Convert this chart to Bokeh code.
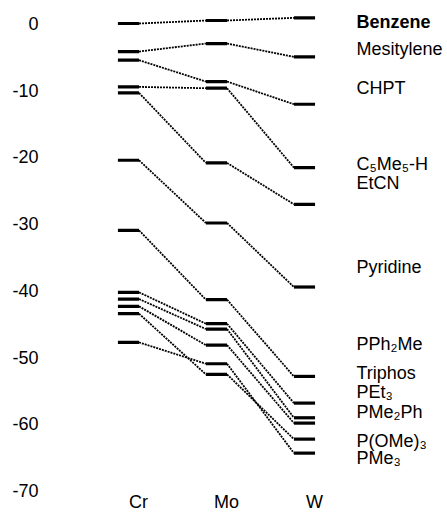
from bokeh.plotting import figure
from bokeh.models import ColumnDataSource, FixedTicker, Range1d
from bokeh.core.properties import value
from bokeh.embed import file_html
from bokeh.resources import INLINE

# ---- data ----
metals = ["Cr", "Mo", "W"]
ligands = ["Benzene", "Mesitylene", "CHPT", "C\u2085Me\u2085-H", "EtCN", "Pyridine",
           "PPh\u2082Me", "Triphos", "PEt\u2083", "PMe\u2082Ph", "P(OMe)\u2083", "PMe\u2083"]
cr_vals = [0.0, -4.2, -5.5, -9.5, -10.4, -20.5, -31.0, -40.3, -41.3, -42.4, -43.5, -47.8]
mo_vals = [0.45, -3.0, -8.7, -9.7, -20.9, -29.9, -41.4, -45.0, -45.8, -48.2, -52.6, -51.0]
w_vals = [0.85, -5.0, -12.1, -21.6, -27.1, -39.5, -52.9, -56.9, -59.1, -59.9, -62.3, -64.4]
label_y = [0.2, -3.8, -9.6, -21.0, -23.9, -36.5, -48.0, -52.4, -55.3, -58.2, -62.6, -65.1]
y_ticks = [0, -10, -20, -30, -40, -50, -60, -70]
y_tick_labels = ["0", "-10", "-20", "-30", "-40", "-50", "-60", "-70"]

# ---- layout constants ----
HW = 0.12           # half width of a level bar, in x units
LABEL_X = 2.59      # x where ligand labels start
METAL_LABEL_Y = -73.3
FONT = "Liberation Sans"

series = [cr_vals, mo_vals, w_vals]

p = figure(width=447, height=514, output_backend="svg", toolbar_location=None,
           x_range=Range1d(-0.977, 3.625), y_range=Range1d(-73.6, 3.45),
           x_axis_location=None, min_border_left=42, min_border_right=0,
           min_border_top=0, min_border_bottom=0)
p.outline_line_color = None
p.grid.visible = False
p.background_fill_color = "white"
p.border_fill_color = "white"

# y axis
ax = p.yaxis[0]
ax.ticker = FixedTicker(ticks=y_ticks)
ax.major_label_overrides = {t: s for t, s in zip(y_ticks, y_tick_labels)}
ax.axis_line_color = None
ax.major_tick_line_color = None
ax.minor_tick_line_color = None
ax.major_tick_out = 0
ax.major_tick_in = 0
ax.major_label_standoff = 4
ax.major_label_text_font = FONT
ax.major_label_text_font_size = "18px"
ax.major_label_text_color = "black"

# level bars
bx0, bx1, by = [], [], []
for i, vals in enumerate(series):
    for v in vals:
        bx0.append(i - HW)
        bx1.append(i + HW)
        by.append(v)
p.segment(x0=bx0, y0=by, x1=bx1, y1=by, line_color="black", line_width=3.2, line_cap="butt")

# dotted connectors
cx0, cy0, cx1, cy1 = [], [], [], []
for i in range(len(series) - 1):
    for a, b in zip(series[i], series[i + 1]):
        cx0.append(i + HW)
        cy0.append(a)
        cx1.append(i + 1 - HW)
        cy1.append(b)
p.segment(x0=cx0, y0=cy0, x1=cx1, y1=cy1, line_color="black", line_width=1.8,
          line_dash="2 1")

# ligand labels
styles = ["bold" if i == 0 else "normal" for i in range(len(ligands))]
lab_src = ColumnDataSource(dict(x=[LABEL_X] * len(ligands), y=label_y, t=ligands, s=styles))
p.text(x="x", y="y", text="t", source=lab_src, text_font=value(FONT),
       text_font_style="s", text_font_size="18px", text_baseline="middle",
       text_align="left", text_color="black")

# metal labels
p.text(x=list(range(len(metals))), y=[METAL_LABEL_Y] * len(metals), text=metals,
       text_font=value(FONT), text_font_size="18px", text_baseline="bottom",
       text_align="center", x_offset=10, text_color="black")

open("out.html", "w").write(file_html(p, INLINE))
